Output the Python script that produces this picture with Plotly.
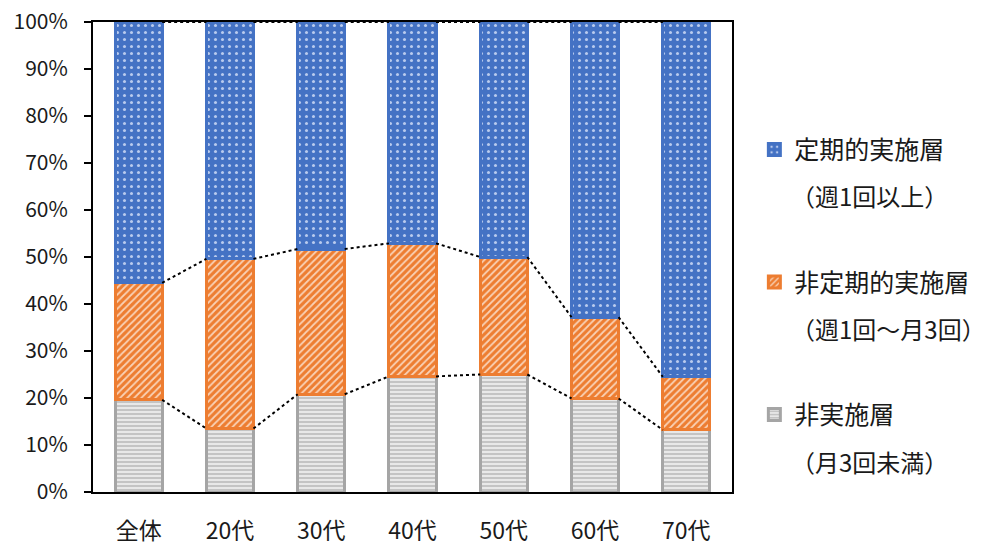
import plotly.graph_objects as go

categories = ["全体", "20代", "30代", "40代", "50代", "60代", "70代"]
non_practice = [19.6, 13.5, 20.8, 24.6, 25.0, 19.9, 13.2]      # 非実施層
irregular = [24.9, 36.1, 30.9, 28.3, 25.0, 17.3, 11.3]         # 非定期的実施層
regular = [55.5, 50.4, 48.3, 47.1, 50.0, 62.8, 75.5]           # 定期的実施層

legend_names = ["非実施層", "非定期的実施層", "定期的実施層"]
legend_sub = ["（月3回未満）", "（週1回～月3回）", "（週1回以上）"]
y_ticks = [0, 10, 20, 30, 40, 50, 60, 70, 80, 90, 100]

FONT = "Noto Sans CJK JP"
TXT = "#1a1a1a"
BAR_W = 0.515

x_idx = list(range(len(categories)))

fig = go.Figure()

styles = [
    dict(color="#A5A5A5", pattern=dict(shape="-", bgcolor="#c4c4c4", fgcolor="#ededed", size=4, solidity=0.45, fillmode="replace"), line=dict(color="#A5A5A5", width=3)),
    dict(color="#ED7D31", pattern=dict(shape="/", bgcolor="#ED7D31", fgcolor="#F9D2B6", size=5, solidity=0.35, fillmode="replace"), line=dict(color="#ED7D31", width=3)),
    dict(color="#4472C4", pattern=dict(shape=".", bgcolor="#4472C4", fgcolor="#b9cbee", size=7, solidity=0.15, fillmode="replace"), line=dict(color="#4472C4", width=3)),
]

for vals, name, st, g, rank in zip([non_practice, irregular, regular], legend_names, styles,
                                   ["a", "b", "c"], [3, 2, 1]):
    fig.add_trace(go.Bar(
        x=x_idx, y=vals, name=name, width=BAR_W, marker=st,
        legendgroup=g, legendrank=rank, hoverinfo="skip",
    ))

# series lines (dotted) connecting the segment boundaries
cum1 = non_practice
cum2 = [a + b for a, b in zip(non_practice, irregular)]
cum3 = [a + b + c for a, b, c in zip(non_practice, irregular, regular)]
for cum in (cum1, cum2, cum3):
    xs, ys = [], []
    for i in range(len(categories) - 1):
        xs += [i + BAR_W / 2, i + 1 - BAR_W / 2, None]
        ys += [cum[i], cum[i + 1], None]
    fig.add_trace(go.Scatter(x=xs, y=ys, mode="lines", showlegend=False, hoverinfo="skip",
                             line=dict(color="black", width=2, dash="dot")))

annotations = []
sub_y = [0.0657, 0.3487, 0.6317]
for t, yy in zip(legend_sub, sub_y):
    annotations.append(dict(text=t, xref="paper", yref="paper", x=1.0892, y=yy,
                            xanchor="left", yanchor="middle", showarrow=False,
                            font=dict(family=FONT, size=24, color=TXT)))

fig.update_layout(
    width=987, height=547,
    margin=dict(l=93, r=255, t=22, b=55),
    paper_bgcolor="white", plot_bgcolor="white",
    barmode="stack",
    font=dict(family=FONT, color=TXT),
    showlegend=True,
    legend=dict(x=1.035, xanchor="left", y=0.777, yanchor="top",
                traceorder="grouped", tracegroupgap=97,
                font=dict(family=FONT, size=25, color=TXT),
                bgcolor="rgba(0,0,0,0)", itemwidth=30),
    annotations=annotations,
    xaxis=dict(range=[-0.5, 6.5], tickmode="array", tickvals=x_idx, ticktext=categories,
               showline=True, linecolor="black", linewidth=2, mirror=True,
               ticks="", showgrid=False, zeroline=False, ticklabelstandoff=17,
               automargin=False,
               tickfont=dict(family=FONT, size=23, color=TXT)),
    yaxis=dict(range=[0, 100], tickmode="array", tickvals=y_ticks,
               ticktext=[f"{v}%" for v in y_ticks],
               showline=True, linecolor="black", linewidth=2, mirror=True,
               ticks="outside", ticklen=7, tickwidth=2, tickcolor="black",
               showgrid=False, zeroline=False, ticklabelstandoff=12,
               automargin=False,
               tickfont=dict(family=FONT, size=21, color=TXT)),
)

fig.write_html("out.html", config={"displayModeBar": False},
               post_script="document.body.style.margin='0px';")
